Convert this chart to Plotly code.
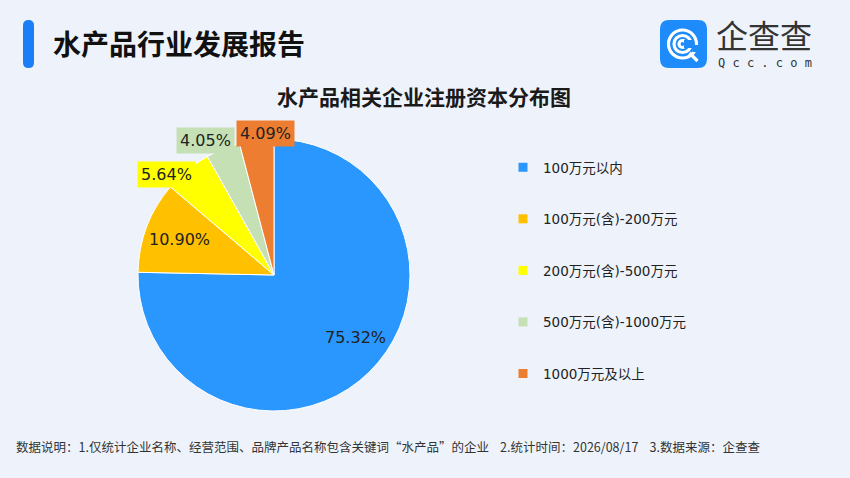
import numpy as np
import plotly.graph_objects as go

W, H = 850, 478

# ── data ─────────────────────────────────────────────────────────────────────
categories = ["100万元以内", "100万元(含)-200万元", "200万元(含)-500万元",
              "500万元(含)-1000万元", "1000万元及以上"]
shares = [75.32, 10.90, 5.64, 4.05, 4.09]
colors = ["#2997FD", "#FFC000", "#FFFF00", "#C5E0B4", "#ED7D31"]

title_main = "水产品行业发展报告"
title_chart = "水产品相关企业注册资本分布图"
footnote = ("数据说明：1.仅统计企业名称、经营范围、品牌产品名称包含关键词“水产品”的企业"
            "    2.统计时间：2026/08/17    3.数据来源：企查查")

FONT = "Noto Sans CJK SC, Noto Sans, sans-serif"
NUMFONT = "DejaVu Sans, Noto Sans CJK SC, sans-serif"

# pie geometry (pixels)
CX, CY, R = 274, 275, 136

fig = go.Figure()

fig.add_trace(go.Pie(
    labels=categories, values=shares,
    textinfo="none",
    marker=dict(colors=colors, line=dict(color="white", width=1)),
    sort=False, direction="clockwise", rotation=0,
    domain=dict(x=[(CX - R) / W, (CX + R) / W],
                y=[(H - CY - R) / H, (H - CY + R) / H]),
    showlegend=False, hoverinfo="label+percent",
))

# legend via dummy traces so the row spacing can be set
for i, (name, c) in enumerate(zip(categories, colors)):
    fig.add_trace(go.Scatter(
        x=[None], y=[None], mode="markers", name=name,
        marker=dict(symbol="square", size=9, color=c),
        legendgroup=f"g{i}", showlegend=True,
    ))

# percentage labels placed from the slice angles
total = sum(shares)
cum = np.cumsum(shares)
mid = [(c - v / 2) / total * 2 * np.pi for c, v in zip(cum, shares)]
label_r = [0.75, 0.74, 0.96, 1.03, 0.95]
label_dx = [10, 0, 5, 14, 8]
label_dy = [-10, 0, 0, -5, 0]
boxed = [False, False, True, True, True]
label_anchor = [("center", "middle"), ("center", "middle"), ("right", "middle"),
                ("right", "middle"), ("center", "bottom")]

annotations = []
for k in range(len(shares)):
    px = CX + label_r[k] * R * np.sin(mid[k]) + label_dx[k]
    py = CY - label_r[k] * R * np.cos(mid[k]) + label_dy[k]
    annotations.append(dict(
        x=px, y=py, xref="x", yref="y", showarrow=False,
        text=f"{shares[k]:.2f}%", xanchor=label_anchor[k][0], yanchor=label_anchor[k][1],
        bgcolor=colors[k] if boxed[k] else "rgba(0,0,0,0)", borderpad=3,
        font=dict(size=16, color="#222222", family=NUMFONT),
    ))

annotations += [
    dict(x=51, y=43, xref="x", yref="y", text=title_main, showarrow=False,
         xanchor="left", yanchor="middle",
         font=dict(size=28, color="#111111", family=FONT, weight="bold")),
    dict(x=424, y=96, xref="x", yref="y", text=title_chart, showarrow=False,
         xanchor="center", yanchor="middle",
         font=dict(size=21, color="#1a1a1a", family=FONT, weight="bold")),
    dict(x=14, y=446, xref="x", yref="y", text=footnote, showarrow=False,
         xanchor="left", yanchor="middle",
         font=dict(size=12.5, color="#333333", family=FONT)),
    dict(x=714, y=33.5, xref="x", yref="y", text="企查查", showarrow=False,
         xanchor="left", yanchor="middle",
         font=dict(size=32, color="#333333", family=FONT)),
    dict(x=716, y=62.5, xref="x", yref="y", text="Q c c . c o m", showarrow=False,
         xanchor="left", yanchor="middle",
         font=dict(size=12, color="#333333", family="DejaVu Sans Mono")),
]

# header bar and logo
def rrect(x0, y0, x1, y1, r):
    return (f"M{x0+r},{y0} L{x1-r},{y0} Q{x1},{y0} {x1},{y0+r} L{x1},{y1-r} "
            f"Q{x1},{y1} {x1-r},{y1} L{x0+r},{y1} Q{x0},{y1} {x0},{y1-r} "
            f"L{x0},{y0+r} Q{x0},{y0} {x0+r},{y0} Z")

LOGO = "#1E8BFA"
shapes = [
    dict(type="path", path=rrect(23, 20, 34, 68, 5.5), xref="x", yref="y",
         fillcolor="#1A7EF6", line=dict(width=0)),
    dict(type="path", path=rrect(660, 20, 707, 68, 9), xref="x", yref="y",
         fillcolor=LOGO, line=dict(width=0)),
]
lx, ly = 682.5, 44
for rr in (14, 8.5, 3.5):
    shapes.append(dict(type="circle", xref="x", yref="y",
                       x0=lx - rr, x1=lx + rr, y0=ly - rr, y1=ly + rr,
                       line=dict(color="white", width=3.2)))
# open the rings on the right side
shapes.append(dict(type="rect", xref="x", yref="y", x0=lx + 1.5, x1=lx + 11, y0=ly - 4, y1=ly + 4,
                   fillcolor=LOGO, line=dict(width=0)))
shapes.append(dict(type="rect", xref="x", yref="y", x0=lx + 10, x1=lx + 18, y0=ly + 1, y1=ly + 8,
                   fillcolor=LOGO, line=dict(width=0)))
shapes.append(dict(type="line", xref="x", yref="y", x0=lx + 7, y0=ly + 9, x1=lx + 15, y1=ly + 17,
                   line=dict(color="white", width=3.2)))

fig.update_layout(
    width=W, height=H,
    margin=dict(l=0, r=0, t=0, b=0),
    paper_bgcolor="#EEF3FB", plot_bgcolor="rgba(0,0,0,0)",
    xaxis=dict(range=[0, W], visible=False, fixedrange=True),
    yaxis=dict(range=[H, 0], visible=False, fixedrange=True),
    showlegend=True,
    legend=dict(x=503 / W, y=1 - 152 / H, xanchor="left", yanchor="top",
                font=dict(size=13.5, color="#222222", family=NUMFONT),
                tracegroupgap=31, bgcolor="rgba(0,0,0,0)"),
    annotations=annotations,
    shapes=shapes,
)

fig.write_html("out.html", config={"displayModeBar": False},
               post_script="document.body.style.margin='0';")
